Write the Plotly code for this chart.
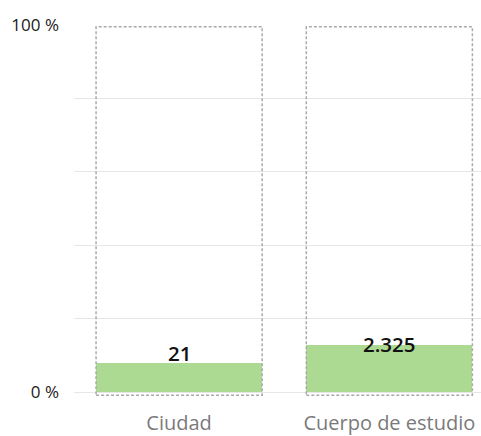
import plotly.graph_objects as go

categories = ["Ciudad", "Cuerpo de estudio"]
percent_values = [7.9, 12.8]
count_labels = ["21", "2.325"]
label_shift = [10, 1]
y_tick_vals = [0, 20, 40, 60, 80, 100]
y_tick_text = ["0 %", "", "", "", "", "100 %"]

BAR_W = 0.79
fig = go.Figure()
fig.add_trace(go.Bar(
    x=list(range(len(categories))), y=percent_values, width=BAR_W,
    marker=dict(color="#ACDA93", line=dict(width=0)),
    hoverinfo="skip",
))

shapes = []
for i in range(len(categories)):
    shapes.append(dict(type="rect", xref="x", yref="y",
                       x0=i - BAR_W / 2, x1=i + BAR_W / 2, y0=-0.8, y1=99.5,
                       line=dict(color="#AAAAAA", width=1.5, dash="3px,2px"),
                       fillcolor="rgba(0,0,0,0)", layer="above"))

annotations = []
for i, (v, t, s) in enumerate(zip(percent_values, count_labels, label_shift)):
    annotations.append(dict(x=i, y=v, xref="x", yref="y", text=t, showarrow=False,
                            yanchor="middle", yshift=s,
                            font=dict(family="Open Sans", size=20.5, color="#111111", weight=600)))

fig.update_layout(
    width=481, height=436,
    margin=dict(l=74, r=0, t=25, b=40),
    paper_bgcolor="white", plot_bgcolor="white",
    showlegend=False,
    shapes=shapes, annotations=annotations,
    bargap=0,
    xaxis=dict(
        tickmode="array", tickvals=list(range(len(categories))), ticktext=categories,
        range=[-0.5, 1.436], showgrid=False, zeroline=False, showline=False,
        ticks="", ticklabelstandoff=13,
        tickfont=dict(family="Open Sans", size=20, color="#7a7a7a"),
        fixedrange=True, automargin=False,
    ),
    yaxis=dict(
        range=[-1.0, 100], tickmode="array", tickvals=y_tick_vals, ticktext=y_tick_text,
        showgrid=True, gridcolor="#E6E6E6", gridwidth=1, zeroline=False, showline=False,
        ticks="", ticklabelstandoff=14,
        tickfont=dict(family="Open Sans", size=17, color="#1a1a1a"),
        fixedrange=True, automargin=False,
    ),
)

fig.write_html(
    "out.html",
    config={"displayModeBar": False, "staticPlot": True},
    post_script="document.body.style.margin='0';document.body.style.overflow='hidden';",
)
